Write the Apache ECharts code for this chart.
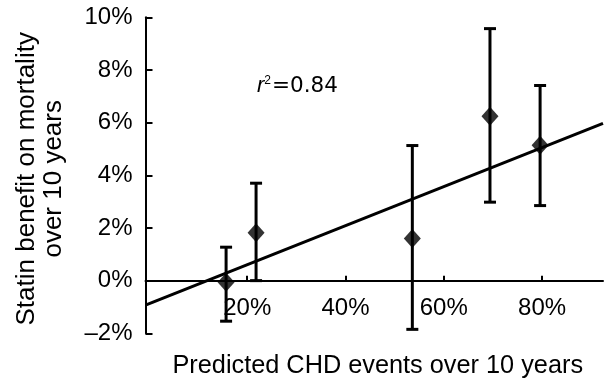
<!DOCTYPE html>
<html>
<head>
<meta charset="utf-8">
<script src="https://cdn.jsdelivr.net/npm/echarts@6/dist/echarts.min.js"></script>
<style>
html,body{margin:0;padding:0;background:#fff;}
#c{width:605px;height:382px;}
</style>
</head>
<body>
<div id="c"></div>
<script>
// Data
const xVals = [15.7, 21.8, 53.6, 69.4, 79.6];   // predicted CHD events (%)
const yVals = [-0.06, 1.82, 1.60, 6.24, 5.14];  // statin benefit (%)
const yLow  = [-1.54, 0.0, -1.85, 2.98, 2.85];
const yHigh = [1.27, 3.70, 5.13, 9.57, 7.41];
const fitX = [-0.7, 92.4];                      // regression line endpoints
const fitY = [-0.93, 5.97];
const xTickValues = [20, 40, 60, 80];
const xTickLabels = ['20%', '40%', '60%', '80%'];
const yTickValues = [-2, 0, 2, 4, 6, 8, 10];
const yTickLabels = ['\u20132%', '0%', '2%', '4%', '6%', '8%', '10%'];
const rSquared = '0.84';

const FONT = '"Liberation Sans", Arial, Helvetica, sans-serif';
const FONT2 = '"DejaVu Sans", "Liberation Sans", sans-serif';
const chart = echarts.init(document.getElementById('c'), null, {renderer: 'canvas'});

const points = xVals.map((x, i) => [x, yVals[i]]);
const bars = xVals.map((x, i) => [x, yLow[i], yHigh[i]]);
const fit = fitX.map((x, i) => [x, fitY[i]]);

chart.setOption({
  animation: false,
  backgroundColor: '#fff',
  textStyle: {fontFamily: FONT, color: '#000'},
  grid: {left: 145.5, right: 2, top: 17.3, bottom: 48.7, containLabel: false, outerBoundsMode: 'none'},
  xAxis: {
    type: 'value',
    min: -0.7, max: 92.4,
    name: 'Predicted CHD events over 10 years',
    nameLocation: 'middle',
    nameGap: 20,
    nameTextStyle: {fontSize: 25.3, color: '#000', fontFamily: FONT, padding: [0, 0, 0, 7]},
    axisLine: {onZero: true, lineStyle: {color: '#000', width: 2}},
    axisTick: {show: true, inside: true, length: 5, customValues: xTickValues, lineStyle: {color: '#000', width: 2}},
    axisLabel: {
      customValues: xTickValues,
      margin: -37,
      fontSize: 24, color: '#000', fontFamily: FONT,
      formatter: v => xTickLabels[xTickValues.indexOf(v)] || ''
    },
    splitLine: {show: false}
  },
  yAxis: {
    type: 'value',
    min: -2, max: 10, interval: 2,
    name: 'Statin benefit on mortality\nover 10 years',
    nameLocation: 'middle',
    nameGap: 78,
    nameTextStyle: {fontSize: 26, lineHeight: 27, color: '#000', fontFamily: FONT, padding: [0, 7, 0, 0]},
    axisLine: {show: true, onZero: false, lineStyle: {color: '#000', width: 2}},
    axisTick: {show: true, inside: true, length: 7, lineStyle: {color: '#000', width: 2}},
    axisLabel: {
      margin: 13,
      fontSize: 24, color: '#000', fontFamily: FONT,
      formatter: v => yTickLabels[yTickValues.indexOf(v)] || ''
    },
    splitLine: {show: false}
  },
  series: [
    {
      type: 'line',
      data: fit,
      symbol: 'none',
      lineStyle: {color: '#000', width: 3},
      z: 2
    },
    {
      type: 'custom',
      data: bars,
      z: 3,
      renderItem: function (params, api) {
        const x = api.value(0);
        const lo = api.coord([x, api.value(1)]);
        const hi = api.coord([x, api.value(2)]);
        const cw = 6;
        const style = {stroke: '#000', lineWidth: 3};
        return {
          type: 'group',
          children: [
            {type: 'line', shape: {x1: lo[0], y1: lo[1], x2: hi[0], y2: hi[1]}, style: style},
            {type: 'line', shape: {x1: hi[0] - cw, y1: hi[1], x2: hi[0] + cw, y2: hi[1]}, style: style},
            {type: 'line', shape: {x1: lo[0] - cw, y1: lo[1], x2: lo[0] + cw, y2: lo[1]}, style: style}
          ]
        };
      }
    },
    {
      type: 'scatter',
      data: points,
      symbol: 'diamond',
      symbolSize: [17, 19],
      itemStyle: {color: '#000'},
      z: 4
    }
  ],
  graphic: [
    {
      type: 'text',
      left: 257,
      top: 75,
      style: {
        text: '{r|r}{s|2}{n|=' + rSquared + '}',
        rich: {
          r: {fontSize: 22, fontStyle: 'italic', fontFamily: FONT, fill: '#000'},
          s: {fontSize: 12, fontFamily: FONT, fill: '#000', verticalAlign: 'top', padding: [0, 1, 10, 0]},
          n: {fontSize: 21.5, fontFamily: FONT2, fill: '#000'}
        }
      }
    }
  ]
});
</script>
</body>
</html>
